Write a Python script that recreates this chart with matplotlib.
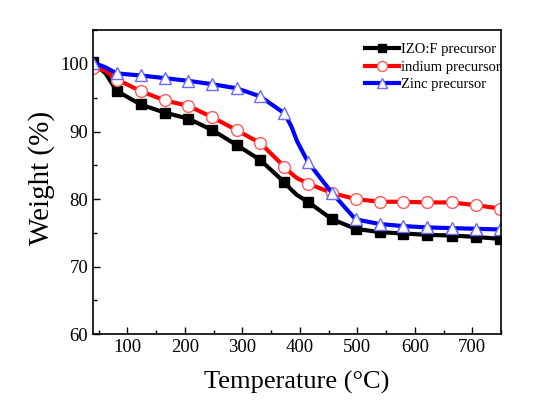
import matplotlib
matplotlib.use('Agg')
import matplotlib.pyplot as plt
from matplotlib.ticker import MultipleLocator

plt.rcParams['font.family'] = ['Liberation Serif', 'DejaVu Serif']

# Temperature points (°C); markers every ~41.6 °C, some extra points for the curve shape
temp = [40, 62, 81.6, 123, 165, 206, 248, 290, 331, 373, 385, 395, 414, 456, 497, 539, 580, 622, 664, 706, 748]
izo_f = [100.3, 98.6, 96.0, 94.0, 92.8, 91.9, 90.2, 88.0, 85.8, 82.5, 81.4, 80.6, 79.6, 77.0, 75.6, 75.1, 74.9, 74.7, 74.6, 74.4, 74.1]
indium = [99.4, 99.0, 97.7, 96.0, 94.6, 93.8, 92.1, 90.2, 88.3, 84.8, 83.8, 83.1, 82.3, 80.9, 80.0, 79.6, 79.6, 79.5, 79.5, 79.1, 78.6]
zinc = [100.2, 99.5, 98.6, 98.3, 97.9, 97.5, 97.0, 96.4, 95.2, 92.7, 90.8, 88.6, 85.5, 80.9, 77.0, 76.3, 76.0, 75.8, 75.7, 75.6, 75.5]
labels = ['IZO:F precursor', 'indium precursor', 'Zinc precursor']

# indices with markers (skip the helper points)
mark_idx = [0, 2, 3, 4, 5, 6, 7, 8, 9, 12, 13, 14, 15, 16, 17, 18, 19, 20]

fig = plt.figure(figsize=(5.37, 4.08), dpi=100)
ax = fig.add_axes([0.173, 0.181, 0.760, 0.745])

ax.plot(temp, izo_f, color='black', linewidth=3, marker='s', markersize=7,
        markerfacecolor='black', markeredgecolor='black', markevery=mark_idx, label=labels[0])
ax.plot(temp, indium, color='#ff0000', linewidth=3, marker='o', markersize=8.5,
        markerfacecolor='white', markeredgecolor='#ff5a5a', markeredgewidth=1.0,
        markevery=mark_idx, label=labels[1])
ax.plot(temp, zinc, color='#0000ff', linewidth=3, marker='^', markersize=9,
        markerfacecolor='white', markeredgecolor='#6a6aff', markeredgewidth=1.0,
        markevery=mark_idx, label=labels[2])

ax.set_xlim(40, 750)
ax.set_ylim(60, 105)
ax.xaxis.set_major_locator(MultipleLocator(100))
ax.xaxis.set_minor_locator(MultipleLocator(50))
ax.yaxis.set_major_locator(MultipleLocator(10))
ax.yaxis.set_minor_locator(MultipleLocator(5))
ax.tick_params(which='both', direction='in', top=False, right=False, labelsize=13.5)
ax.tick_params(which='major', length=5, width=1)
ax.tick_params(which='minor', length=3, width=1)
for s in ax.spines.values():
    s.set_linewidth(1.2)

ax.set_xlabel('Temperature (°C)', fontsize=19, labelpad=11)
ax.set_ylabel('Weight (%)', fontsize=21)
ax.yaxis.set_label_coords(-0.093, 0.515)

leg = ax.legend(loc='upper left', bbox_to_anchor=(365 / 537, 1 - 43 / 408),
                bbox_transform=fig.transFigure, frameon=False, fontsize=10.5,
                handlelength=2.3, handletextpad=0.15, labelspacing=0.3,
                borderpad=0, borderaxespad=0, markerscale=0.85)

fig.savefig('out.png', dpi=100)
